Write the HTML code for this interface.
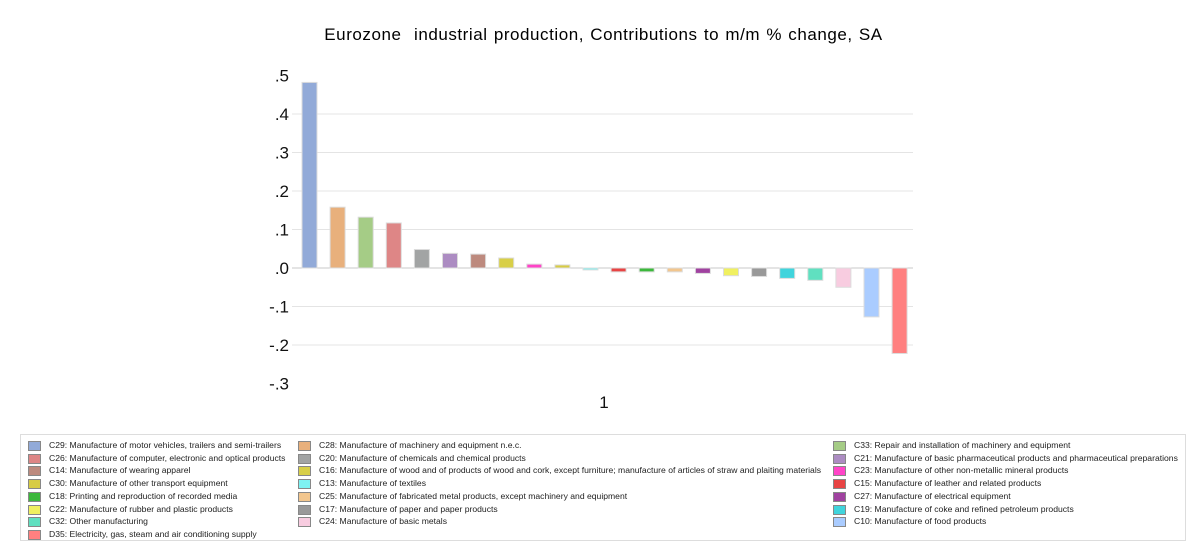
<!DOCTYPE html>
<html><head><meta charset="utf-8"><style>
body{margin:0;background:#fff;width:1200px;height:554px;overflow:hidden;font-family:"Liberation Sans",sans-serif}
#title{position:absolute;left:0;width:1207px;top:25px;text-align:center;font-size:17px;letter-spacing:0.55px;word-spacing:1px;color:#000}
#legend{position:absolute;left:20px;top:434px;width:1166px;height:107px;border:1px solid #ddd;box-sizing:border-box}
.li{position:absolute;font-size:8.6px;color:#222;white-space:nowrap;line-height:10px}
.sw{position:absolute;width:11px;height:8px;border:1px solid #888;left:-21px;top:1px}
</style></head><body>
<div id="title">Eurozone&nbsp; industrial production, Contributions to m/m % change, SA</div>
<svg id="chart" width="1200" height="430" style="position:absolute;left:0;top:0"></svg>
<div id="legend"></div>
<script>
const categories=["C29: Manufacture of motor vehicles, trailers and semi-trailers","C28: Manufacture of machinery and equipment n.e.c.","C33: Repair and installation of machinery and equipment","C26: Manufacture of computer, electronic and optical products","C20: Manufacture of chemicals and chemical products","C21: Manufacture of basic pharmaceutical products and pharmaceutical preparations","C14: Manufacture of wearing apparel","C16: Manufacture of wood and of products of wood and cork, except furniture; manufacture of articles of straw and plaiting materials","C23: Manufacture of other non-metallic mineral products","C30: Manufacture of other transport equipment","C13: Manufacture of textiles","C15: Manufacture of leather and related products","C18: Printing and reproduction of recorded media","C25: Manufacture of fabricated metal products, except machinery and equipment","C27: Manufacture of electrical equipment","C22: Manufacture of rubber and plastic products","C17: Manufacture of paper and paper products","C19: Manufacture of coke and refined petroleum products","C32: Other manufacturing","C24: Manufacture of basic metals","C10: Manufacture of food products","D35: Electricity, gas, steam and air conditioning supply"];
const values=[0.482,0.158,0.132,0.117,0.048,0.038,0.036,0.026,0.010,0.008,-0.005,-0.010,-0.010,-0.010,-0.014,-0.020,-0.022,-0.027,-0.032,-0.050,-0.127,-0.222];
const colors=["#92aad8","#e8b07c","#a5cc86","#de8686","#a2a4a4","#ac8cc2","#bd8a7e","#d8cf48","#ff44c8","#d7cc44","#7ef2f2","#e84444","#3cb83c","#f2c68e","#a042a0","#f0f060","#999999","#40d4dc","#60e0c0","#f8cce0","#aaccff","#ff8080"];
const yTicks=[0.5,0.4,0.3,0.2,0.1,0,-0.1,-0.2,-0.3];
const tickLabels=[".5",".4",".3",".2",".1",".0","-.1","-.2","-.3"];
const NS="http://www.w3.org/2000/svg";
const svg=document.getElementById('chart');
const y0=268, pxPer=385;
function yScale(v){return y0-v*pxPer;}
function xScale(i){return 309.5+i*28.1;}
function mk(t,a){const e=document.createElementNS(NS,t);for(const k in a)e.setAttribute(k,a[k]);svg.appendChild(e);return e;}
yTicks.forEach((v,i)=>{
  if(v<0.45&&v>-0.25){
    const g=mk('line',{x1:292,x2:913,y1:yScale(v),y2:yScale(v),stroke:v===0?'#c8c8c8':'#e4e4e4','stroke-width':1});
    
    
  }
  const t=mk('text',{x:289,y:yScale(v)+6,'text-anchor':'end','font-size':17,fill:'#111','font-family':'Liberation Sans, sans-serif'});
  t.textContent=tickLabels[i];
  
  
});
values.forEach((v,i)=>{
  const y=Math.min(yScale(v),y0), h=Math.abs(yScale(v)-y0);
  const r=mk('rect',{x:xScale(i)-7.5,y:y,width:15,height:Math.max(h,1),fill:colors[i],stroke:'#dcdcdc','stroke-width':1});
  
  
});
const xl=mk('text',{x:604,y:408,'text-anchor':'middle','font-size':17,fill:'#111','font-family':'Liberation Sans, sans-serif'});
xl.textContent='1';


const leg=document.getElementById('legend');
const colX=[28,298,833], rowY=[5,17.7,30.4,43.1,55.8,68.5,81.2,93.9];
categories.forEach((c,i)=>{
  const d=document.createElement('div');
  d.className='li';
  d.style.left=colX[i%3]+'px';
  d.style.top=rowY[Math.floor(i/3)]+'px';
  d.textContent=c;
  const s=document.createElement('span');
  s.className='sw';s.style.background=colors[i];
  
  
  d.appendChild(s);
  
  
  leg.appendChild(d);
});
</script>
</body></html>
